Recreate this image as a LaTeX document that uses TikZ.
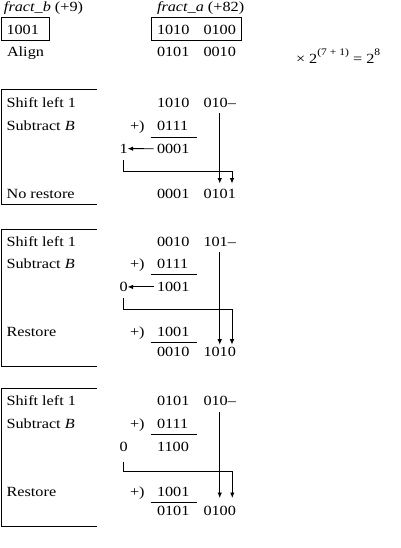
\documentclass[tikz,border=0pt]{standalone}
\usepackage{fontspec}
\setmainfont{Liberation Serif}[FakeStretch=1.16]
\usetikzlibrary{arrows.meta}
\begin{document}
\begin{tikzpicture}[x=1pt,y=-1pt]
\tikzset{
  txt/.style={anchor=base west, inner sep=0pt, outer sep=0pt, font=\fontsize{14}{16}\selectfont},
  ln/.style={line width=0.9pt},
  arr/.style={line width=0.9pt, -{Latex[length=5.5pt,width=4.5pt]}},
}
\useasboundingbox (0,0) rectangle (400,548);
% header
\node[txt] (hb) at (4,12) {\textit{fract\_b} (+9)};
\node[txt] (ha) at (157,12) {\textit{fract\_a} (+82)};
\draw[ln] (1,17.3) rectangle (49.3,40);
\draw[ln] (151.7,17.3) rectangle (241.7,40);
\node[txt] (hB) at (6.5,35) {1001};
\node[txt] (hA1) at (157,35) {1010};
\node[txt] (hA2) at (203.5,35) {0100};
\node[txt] (hal) at (7,56.7) {Align};
\node[txt] (hal1) at (157,56.7) {0101};
\node[txt] (hal2) at (203.5,56.7) {0010};
\node[txt] (hf) at (296,64) {× 2\raisebox{8pt}{\fontsize{10}{12}\selectfont (7 + 1)} = 2\raisebox{8pt}{\fontsize{10}{12}\selectfont 8}};
% section 1
\draw[ln] (97,89) -- (1,89) -- (1,204.5) -- (97,204.5);
\node[txt] (s1l1) at (6.6,108) {Shift left 1};
\node[txt] (s1l2) at (6.6,130.5) {Subtract \textit{B}};
\node[txt] (s1l3) at (6.6,198) {No restore};
\node[txt] (s1a) at (157,108) {1010};
\node[txt] (s1b) at (203.5,108) {010–};
\node[txt] (s1p) at (130,131) {+)};
\node[txt] (s1m) at (157,131) {0111};
\draw[ln] (150.7,137) -- (197.3,137);
\node[txt] (s1c) at (119.5,153.3) {1};
\node[txt] (s1r) at (157,153.3) {0001};
\draw[arr] ([xshift=-3.5pt]s1r.west) -- (s1c.east);
\coordinate (s1t1) at (s1b.south |- 0,183.5);
\coordinate (s1t2) at (232,183.5);
\draw[arr] ([yshift=-5.3pt]s1b.south) -- (s1t1);
\draw[arr] ([yshift=-6.7pt]s1c.south) -- ++(0,11.7) -| (s1t2);
\node[txt] (s1e) at (157,198) {0001};
\node[txt] (s1f) at (203.5,198) {0101};
% section 2
\draw[ln] (97,229) -- (1,229) -- (1,366.3) -- (97,366.3);
\node[txt] (s2l1) at (6.6,246.7) {Shift left 1};
\node[txt] (s2l2) at (6.6,268.5) {Subtract \textit{B}};
\node[txt] (s2l3) at (6.6,336.3) {Restore};
\node[txt] (s2a) at (157,246.5) {0010};
\node[txt] (s2b) at (203.5,246.5) {101–};
\node[txt] (s2p) at (130,268.5) {+)};
\node[txt] (s2m) at (157,268.5) {0111};
\draw[ln] (150.7,274.5) -- (197.3,274.5);
\node[txt] (s2c) at (119.5,291.5) {0};
\node[txt] (s2r) at (157,291.5) {1001};
\draw[arr] ([xshift=-3.5pt]s2r.west) -- (s2c.east);
\coordinate (s2t1) at (s2b.south |- 0,344.7);
\coordinate (s2t2) at (232,344.7);
\draw[arr] ([yshift=-5.2pt]s2b.south) -- (s2t1);
\draw[arr] ([yshift=-6.6pt]s2c.south) -- ++(0,10.9) -| (s2t2);
\node[txt] (s2p2) at (130,336.3) {+)};
\node[txt] (s2m2) at (157,336.3) {1001};
\draw[ln] (150.7,342) -- (197.3,342);
\node[txt] (s2e) at (157,356.3) {0010};
\node[txt] (s2f) at (203.5,356.3) {1010};
% section 3
\draw[ln] (97,388.3) -- (1,388.3) -- (1,526.7) -- (97,526.7);
\node[txt] (s3l1) at (6.6,405.7) {Shift left 1};
\node[txt] (s3l2) at (6.6,428.3) {Subtract \textit{B}};
\node[txt] (s3l3) at (6.6,496) {Restore};
\node[txt] (s3a) at (157,405.7) {0101};
\node[txt] (s3b) at (203.5,405.7) {010–};
\node[txt] (s3p) at (130,428.3) {+)};
\node[txt] (s3m) at (157,428.3) {0111};
\draw[ln] (150.7,434.3) -- (197.3,434.3);
\node[txt] (s3c) at (119.5,451) {0};
\node[txt] (s3r) at (157,451) {1100};
\coordinate (s3t1) at (s3b.south |- 0,498);
\coordinate (s3t2) at (232.3,498);
\draw[arr] ([yshift=-6pt]s3b.south) -- (s3t1);
\draw[arr] ([yshift=-10.7pt]s3c.south) -- ++(0,9.3) -| (s3t2);
\node[txt] (s3p2) at (130,496) {+)};
\node[txt] (s3m2) at (157,496) {1001};
\draw[ln] (150.7,502.8) -- (197.3,502.8);
\node[txt] (s3e) at (157,515.5) {0101};
\node[txt] (s3f) at (203.5,515.5) {0100};
\end{tikzpicture}
\end{document}
